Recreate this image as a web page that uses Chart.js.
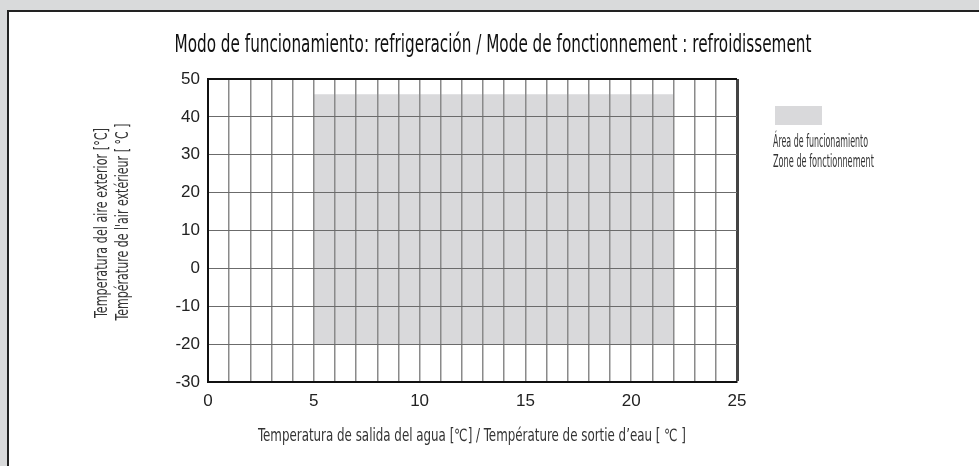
<!DOCTYPE html>
<html>
<head>
<meta charset="utf-8">
<script src="https://cdn.jsdelivr.net/npm/chart.js@4/dist/chart.umd.min.js"></script>
<style>
  html, body { margin: 0; padding: 0; background: #d9dadb; }
  #wrap { position: relative; width: 979px; height: 466px; overflow: hidden; }
  #panel { position: absolute; left: 7px; top: 10px; right: 0; bottom: 0; background: #fff;
           border-left: 2px solid #222; border-top: 2px solid #222; }
  canvas { position: absolute; left: 0; top: 0; }
</style>
</head>
<body>
<div id="wrap">
  <div id="panel"></div>
  <canvas id="c" width="979" height="466"></canvas>
</div>
<script>
// ---- data ----
const chartTitle = "Modo de funcionamiento: refrigeración / Mode de fonctionnement : refroidissement";
const xAxisTitle = "Temperatura de salida del agua [℃] / Température de sortie d’eau [ ℃ ]";
const yAxisTitle = ["Temperatura del aire exterior [°C]", "Température de l'air extérieur [ °C ]"];
const legendLabels = ["Área de funcionamiento", "Zone de fonctionnement"];
const xRange = [0, 25];
const yRange = [-30, 50];
const xLabelStep = 5;
const yStep = 10;
const zoneX = [5, 22];
const zoneTop = [46, 46];
const zoneBottom = [-20, -20];

const zoneColor = '#d9d9db';
const narrow = '"Liberation Sans Narrow", "DejaVu Sans Condensed", "Liberation Sans", sans-serif';

function fitText(ctx, text, cx, cy, size, targetW, color, rot, align) {
  ctx.save();
  ctx.font = size + 'px ' + narrow;
  const w = ctx.measureText(text).width;
  ctx.translate(cx, cy);
  if (rot) ctx.rotate(rot);
  ctx.scale(targetW / w, 1);
  ctx.fillStyle = color;
  ctx.textAlign = align || 'center';
  ctx.textBaseline = 'middle';
  ctx.fillText(text, 0, 0);
  ctx.restore();
}

const textPlugin = {
  id: 'texts',
  afterDraw(chart) {
    const ctx = chart.ctx;
    fitText(ctx, chartTitle, 493, 46, 24, 637, '#111');
    fitText(ctx, xAxisTitle, 472, 437, 17, 428, '#333');
    fitText(ctx, yAxisTitle[0], 103, 223, 17, 190, '#333', -Math.PI / 2);
    fitText(ctx, yAxisTitle[1], 124, 222, 17, 197, '#333', -Math.PI / 2);
    // legend
    ctx.save();
    ctx.fillStyle = zoneColor;
    ctx.fillRect(775, 106, 47, 19);
    ctx.restore();
    fitText(ctx, legendLabels[0], 773, 143, 17, 95, '#333', 0, 'left');
    fitText(ctx, legendLabels[1], 773, 163, 17, 101, '#333', 0, 'left');
  }
};

const xs = zoneX;
new Chart(document.getElementById('c'), {
  type: 'scatter',
  data: {
    datasets: [
      { label: legendLabels[0], data: xs.map((x, i) => ({ x, y: zoneTop[i] })), showLine: true,
        borderWidth: 0, pointRadius: 0, backgroundColor: zoneColor, fill: '+1' },
      { label: 'bottom', data: xs.map((x, i) => ({ x, y: zoneBottom[i] })), showLine: true,
        borderWidth: 0, pointRadius: 0, fill: false }
    ]
  },
  options: {
    responsive: false,
    animation: false,
    layout: { padding: { left: 0, top: 79, right: 242, bottom: 0 } },
    plugins: { legend: { display: false }, tooltip: { enabled: false }, title: { display: false } },
    scales: {
      x: {
        type: 'linear', min: xRange[0], max: xRange[1],
        afterFit(s) { s.height = 84; },
        ticks: { stepSize: 1, autoSkip: false, maxRotation: 0, padding: 9, color: '#222',
          font: { family: '"Liberation Sans", Arial, sans-serif', size: 17 },
          callback: v => (v % xLabelStep === 0 ? String(v) : '') },
        grid: { drawTicks: false, z: 1,
          color: c => (c.tick && c.tick.value === xRange[1] ? '#444' : '#8a8a8a'),
          lineWidth: c => (c.tick && c.tick.value === xRange[1] ? 3 : 1.5) },
        border: { display: true, color: '#111', width: 2, z: 2 }
      },
      y: {
        type: 'linear', min: yRange[0], max: yRange[1],
        afterFit(s) { s.width = 208; },
        ticks: { stepSize: yStep, padding: 8, color: '#222',
          font: { family: '"Liberation Sans", Arial, sans-serif', size: 17 } },
        grid: { drawTicks: false, z: 1,
          color: c => (c.tick && c.tick.value === yRange[1] ? '#111' : '#6b6b6b'),
          lineWidth: c => (c.tick && c.tick.value === yRange[1] ? 2 : 1) },
        border: { display: true, color: '#111', width: 2, z: 2 }
      }
    }
  },
  plugins: [textPlugin]
});
</script>
</body>
</html>
